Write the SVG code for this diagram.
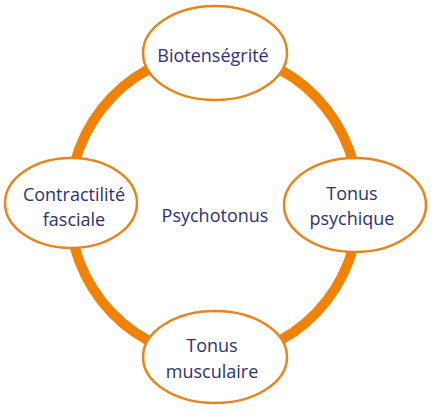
<svg xmlns="http://www.w3.org/2000/svg" width="433" height="413" viewBox="0 0 433 413">
<style>
.node{fill:#fff;stroke:#E8841C;stroke-width:2.5}
.lbl{font-family:"Open Sans",sans-serif;font-size:18px;fill:#2E3270;text-anchor:middle}
</style>
<rect width="433" height="413" fill="#fff"/>
<g id="connectors">
<ellipse cx="214" cy="205" rx="145" ry="152" fill="none" stroke="#F08307" stroke-width="10"/>
</g>
<g id="center"><text class="lbl" x="215" y="222">Psychotonus</text></g>
<g id="biotensegrite">
<ellipse class="node" cx="215" cy="53" rx="72" ry="47"/>
<text class="lbl" x="213" y="62">Biotenségrité</text>
</g>
<g id="contractilite">
<ellipse class="node" cx="71" cy="203" rx="66" ry="45"/>
<text class="lbl" x="74" y="201">Contractilité</text>
<text class="lbl" x="74" y="226">fasciale</text>
</g>
<g id="tonus-psychique">
<ellipse class="node" cx="355" cy="205" rx="71" ry="47"/>
<text class="lbl" x="352" y="200">Tonus</text>
<text class="lbl" x="352" y="225">psychique</text>
</g>
<g id="tonus-musculaire">
<ellipse class="node" cx="215" cy="357" rx="72" ry="46"/>
<text class="lbl" x="212" y="352">Tonus</text>
<text class="lbl" x="212" y="378">musculaire</text>
</g>
</svg>
